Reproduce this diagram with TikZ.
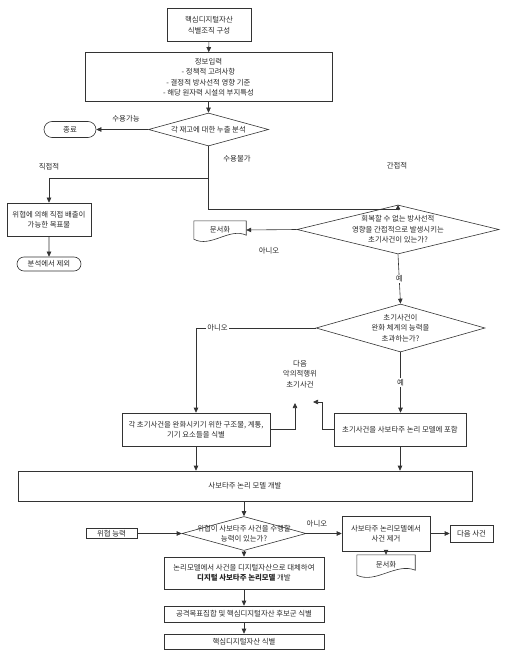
\documentclass[tikz,border=0pt]{standalone}
\usepackage{fontspec}
\setmainfont{Noto Sans CJK KR}
\usetikzlibrary{shapes.geometric, shapes.misc, arrows.meta, positioning}

\begin{document}
\begin{tikzpicture}[
    x=1pt, y=-1pt,
    font=\fontsize{7.4}{10.5}\selectfont,
    every node/.style={text=black!85},
    process/.style={rectangle, draw=black!80, line width=0.6pt, align=center, inner sep=1pt},
    startstop/.style={rounded rectangle, draw=black!80, line width=0.6pt, inner sep=1pt},
    decision/.style={diamond, draw=black!80, line width=0.6pt, inner sep=0pt},
    qtext/.style={align=center},
    docbox/.style={rectangle, minimum height=18, inner sep=0pt},
    outline/.style={draw=black!80, line width=0.6pt},
    yesno/.style={fill=white, inner sep=1pt},
    arrow/.style={draw=black!80, line width=0.6pt, -{Triangle[length=5pt, width=4.5pt]}}
]
\useasboundingbox (0,0) rectangle (509,668);

\node (core) [process, minimum width=84, minimum height=33] at (209,25) {핵심디지털자산\\식별조직 구성};
\node (info) [process, minimum width=247, minimum height=49] at (208.5,77) {정보입력\\- 정책적 고려사항\\- 결정적 방사선적 영향 기준\\- 해당 원자력 시설의 부지특성};
\node (leak) [decision, minimum width=120, minimum height=33, label={[qtext]center:각 재고에 대한 누출 분석}] at (208.5,129.5) {};
\node (stop) [startstop, minimum width=54, minimum height=16] at (70,129.5) {종료};
\node (accept) at (126,119) {수용가능};
\node (reject) at (237,159) {수용불가};
\node (direct) at (49,167) {직접적};
\node (indirect) at (397,166) {간접적};
\node (target) [process, minimum width=84, minimum height=33] at (49,219.5) {위협에 의해 직접 배출이\\가능한 목표물};
\node (exclude) [startstop, minimum width=66, minimum height=14] at (49,264) {분석에서 제외};

\node (irrev) [decision, minimum width=202, minimum height=49, label={[qtext]center:{회복할 수 없는 방사선적\\영향을 간접적으로 발생시키는\\초기사건이 있는가?}}] at (398,229.5) {};
\node (doc1) [docbox, minimum width=52] at (220,230) {문서화};
\node (noA) at (269,251) {아니오};
\node (exceed) [decision, minimum width=169, minimum height=48, label={[qtext]center:{초기사건이\\완화 체계의 능력을\\초과하는가?}}] at (400.5,328) {};

\node (mitigate) [process, minimum width=148, minimum height=33] at (196,429.5) {각 초기사건을 완화시키기 위한 구조물, 계통,\\기기 요소들을 식별};
\node (include) [process, minimum width=132, minimum height=33] at (400,429.5) {초기사건을 사보타주 논리 모델에 포함};
\node (nextmal) [align=center] at (300,374) {다음\\악의적행위\\초기사건};
\coordinate (nextA) at (295,403);
\coordinate (nextB) at (313,402);

\node (model) [process, minimum width=454, minimum height=30] at (245,486) {사보타주 논리 모델 개발};
\node (sabo) [decision, minimum width=124, minimum height=34, label={[qtext]center:{위협이 사보타주 사건을 수행할\\능력이 있는가?}}] at (244,533.5) {};
\node (threat) [process, minimum width=51, minimum height=10, inner ysep=0.5pt] at (111.5,533.5) {위협 능력};
\node (remove) [process, minimum width=88, minimum height=35] at (386,533.5) {사보타주 논리모델에서\\사건 제거};
\node (nextev) [process, minimum width=43, minimum height=17] at (471.5,533.5) {다음 사건};
\node (doc2) [docbox, minimum width=58, minimum height=20] at (386,565) {문서화};

\node (digital) [process, minimum width=160, minimum height=32] at (244,573) {논리모델에서 사건을 디지털자산으로 대체하여\\\textbf{디지털 사보타주 논리모델} 개발};
\node (cand) [process, minimum width=160, minimum height=16] at (244,614) {공격목표집합 및 핵심디지털자산 후보군 식별};
\node (final) [process, minimum width=160, minimum height=15] at (244,641.5) {핵심디지털자산 식별};

% document outlines
\draw [outline] (doc1.south west) -- (doc1.north west) -- (doc1.north east) -- ([yshift=4pt]doc1.south east)
    .. controls ([xshift=-17pt,yshift=12pt]doc1.south east) and ([xshift=17pt,yshift=-9pt]doc1.south west) .. (doc1.south west);
\draw [outline] (doc2.south west) -- (doc2.north west) -- (doc2.north east) -- ([yshift=5pt]doc2.south east)
    .. controls ([xshift=-19pt,yshift=13pt]doc2.south east) and ([xshift=19pt,yshift=-9pt]doc2.south west) .. (doc2.south west);

% connectors
\coordinate (split) at (208.5,178);
\draw [arrow] (core) -- (info);
\draw [arrow] (info) -- (leak);
\draw [arrow] (leak.west) -- (stop.east);
\draw [outline] (leak.south) -- (split);
\draw [arrow] (split) -| (target.north);
\draw [arrow] (target) -- (exclude);
\draw [arrow] (split) |- ([yshift=-5pt]irrev.north) -- (irrev.north);
\draw [arrow] (irrev.west) -- (doc1.east);
\draw [arrow] (irrev.south) -- node[yesno] {예} (exceed.north);
\draw [arrow] (exceed.west) -| node[yesno, pos=0.41] {아니오} (mitigate.north);
\draw [arrow] (exceed.south) -- node[yesno] {예} (exceed.south |- include.north);
\draw [arrow] (mitigate.east) -| (nextA);
\draw [arrow] (include.west) -- ++(-11,0) |- (nextB);
\draw [arrow] (mitigate.south) -- (mitigate.south |- model.north);
\draw [arrow] (include.south) -- (include.south |- model.north);
\draw [arrow] (model.south -| sabo.north) -- (sabo.north);
\draw [arrow] (threat) -- (sabo);
\draw [arrow] (sabo) -- node[above=3pt, pos=0.3] {아니오} (remove);
\draw [arrow] (remove) -- (nextev);
\draw [arrow] (remove) -- (doc2);
\draw [arrow] (sabo) -- (digital);
\draw [arrow] (digital) -- (cand);
\draw [arrow] (cand) -- (final);
\end{tikzpicture}
\end{document}
